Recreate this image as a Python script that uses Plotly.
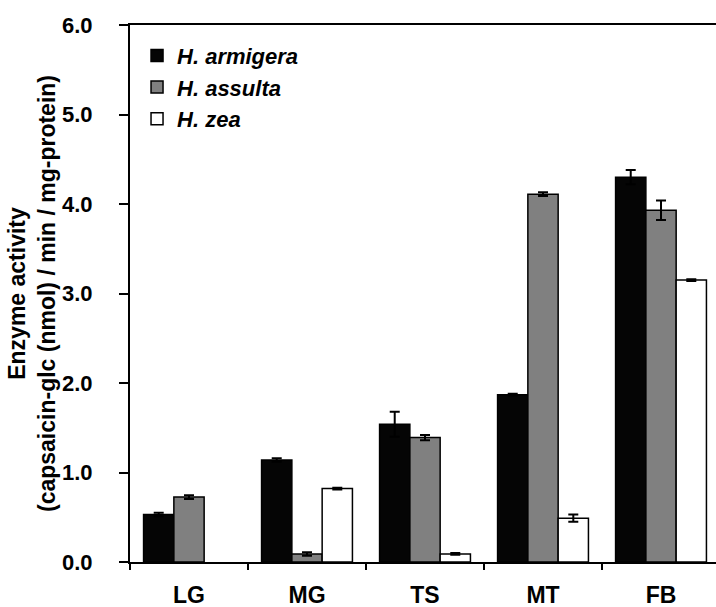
import plotly.graph_objects as go

tissues = ["LG", "MG", "TS", "MT", "FB"]
species = ["H. armigera", "H. assulta", "H. zea"]
armigera = [0.53, 1.14, 1.54, 1.87, 4.30]
armigera_err = [0.02, 0.02, 0.14, 0.01, 0.08]
assulta = [0.725, 0.09, 1.39, 4.11, 3.93]
assulta_err = [0.02, 0.02, 0.03, 0.02, 0.11]
zea = [None, 0.82, 0.09, 0.49, 3.15]
zea_err = [0, 0.01, 0.01, 0.04, 0.01]
y_ticks = [0, 1, 2, 3, 4, 5, 6]

colors = ["#050505", "#808080", "#ffffff"]
series = [armigera, assulta, zea]
errors = [armigera_err, assulta_err, zea_err]

FONT = "Arial, 'Liberation Sans', sans-serif"

fig = go.Figure()
for i, (name, vals, errs) in enumerate(zip(species, series, errors)):
    fig.add_trace(go.Bar(
        x=tissues, y=vals, name=name, legendgroup=name,
        marker=dict(color=colors[i], line=dict(color="#000000", width=1.5)),
        error_y=dict(type="data", array=errs, visible=True, color="#000000",
                     thickness=2, width=5),
    ))

fig.update_layout(
    width=716, height=607,
    margin=dict(l=130, r=0, t=25, b=45),
    paper_bgcolor="white", plot_bgcolor="white",
    barmode="group", bargap=0.23, bargroupgap=0,
    font=dict(family=FONT, color="#000000"),
    legend=dict(x=0.012, y=0.982, xanchor="left", yanchor="top",
                font=dict(size=22, family=FONT, weight="bold", style="italic"),
                tracegroupgap=0, bgcolor="rgba(0,0,0,0)"),
    showlegend=True,
)
fig.update_xaxes(
    range=[-0.5, 4.466], showline=True, linecolor="#000000", linewidth=2,
    mirror=True, ticks="outside", tickson="boundaries", ticklen=6, tickwidth=2,
    tickcolor="#000000", showgrid=False, zeroline=False, automargin=False,
    tickfont=dict(size=23, family=FONT, weight="bold"), ticklabelstandoff=11,
)
fig.update_yaxes(
    range=[0, 6], tickvals=y_ticks, tickformat=".1f",
    showline=True, linecolor="#000000", linewidth=2,
    ticks="outside", ticklen=9, tickwidth=2, tickcolor="#000000",
    showgrid=False, zeroline=False, automargin=False,
    tickfont=dict(size=22, family=FONT, weight="bold"), ticklabelstandoff=22,
    title=dict(text="Enzyme activity<br>(capsaicin-glc (nmol) / min / mg-protein)",
               font=dict(size=23, family=FONT, weight="bold"), standoff=0),
)

fig.write_html("out.html")
